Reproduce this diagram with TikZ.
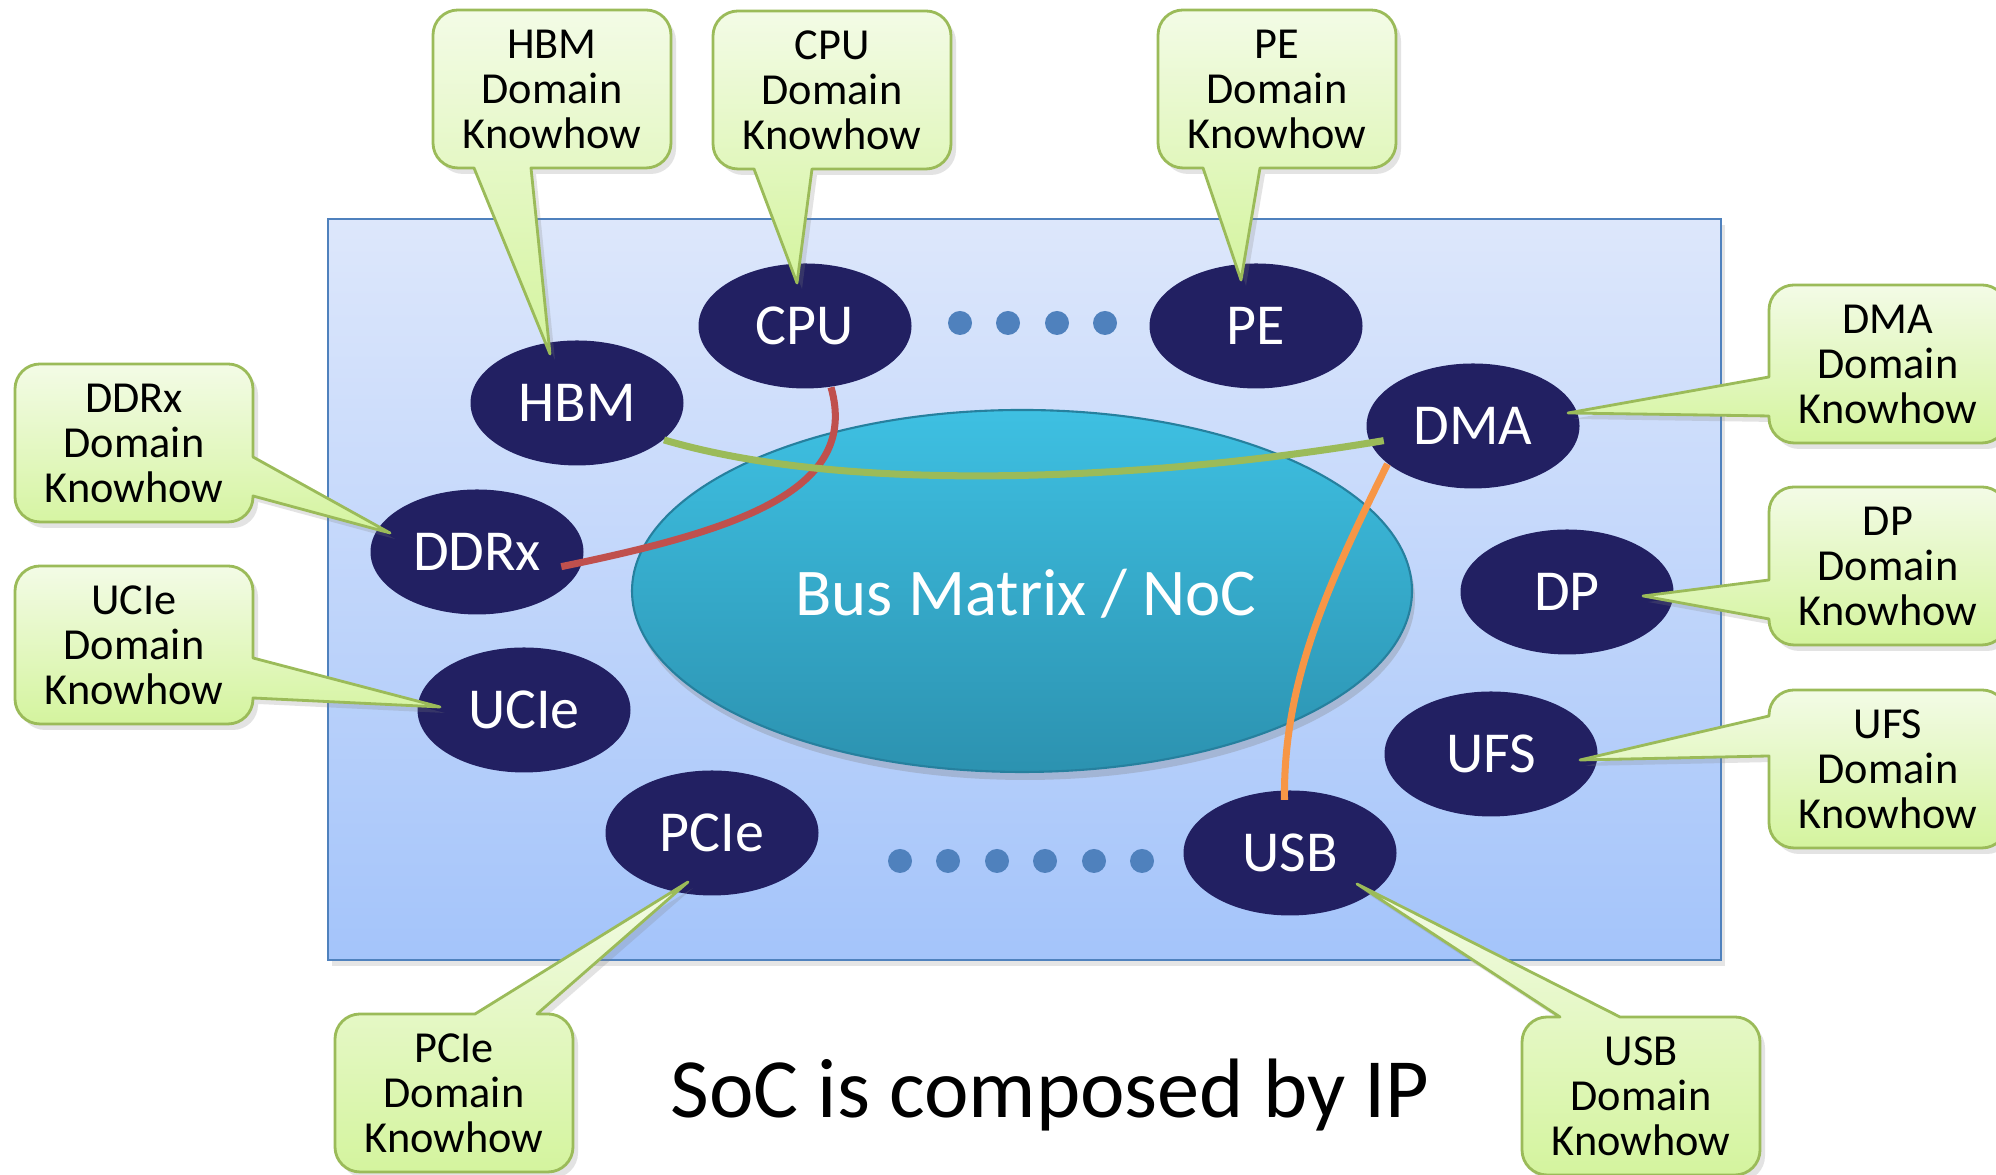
\documentclass[tikz,border=0pt]{standalone}
\usepackage{fontspec}
\setmainfont{Carlito}
\usetikzlibrary{shapes.geometric,shadows}
\definecolor{navyc}{RGB}{34,32,98}
\definecolor{cgtop}{RGB}{243,251,230}
\definecolor{cgbot}{RGB}{212,244,158}
\definecolor{cgline}{RGB}{155,187,89}
\definecolor{bgtop}{RGB}{221,231,251}
\definecolor{bgbot}{RGB}{164,196,250}
\definecolor{bgline}{RGB}{79,129,189}
\definecolor{bustop}{RGB}{62,192,226}
\definecolor{busbot}{RGB}{44,146,176}
\definecolor{busline}{RGB}{38,128,158}
\definecolor{dotc}{RGB}{79,129,189}
\definecolor{redc}{RGB}{192,80,77}
\definecolor{greenc}{RGB}{155,187,89}
\definecolor{orangec}{RGB}{247,150,70}
\tikzset{
  ipnode/.style={ellipse, fill=navyc, minimum width=21.3mm, minimum height=12.5mm, inner sep=0pt,
    text=white, font=\fontsize{16.5}{18}\selectfont},
  callshape/.style={top color=cgtop, bottom color=cgbot, draw=cgline, line width=0.8pt, line join=round,
    drop shadow={opacity=0.22, shadow xshift=0.5mm, shadow yshift=-0.6mm}},
  calltext/.style={align=center, inner sep=0pt, font=\fontsize{12.6}{12.8}\selectfont, text=black},
  dotmark/.style={circle, fill=dotc, minimum size=2.4mm, inner sep=0pt},
  wire/.style={line width=2pt},
}
% callout with pointer on bottom edge: name, cx, cy, b1x, b2x, tipx, tipy, text
\newcommand\calloutbottom[8]{%
  \draw[callshape] (#4,{#3-79}) -- ({#2-94},{#3-79}) arc[start angle=270,end angle=180,radius=25]
    -- ({#2-119},{#3+54}) arc[start angle=180,end angle=90,radius=25]
    -- ({#2+94},{#3+79}) arc[start angle=90,end angle=0,radius=25]
    -- ({#2+119},{#3-54}) arc[start angle=0,end angle=-90,radius=25]
    -- (#5,{#3-79}) -- (#6,#7) -- cycle;
  \node[calltext] (#1) at (#2,#3) {#8};}
% pointer on top edge
\newcommand\callouttop[8]{%
  \draw[callshape] (#4,{#3+79}) -- (#6,#7) -- (#5,{#3+79})
    -- ({#2+94},{#3+79}) arc[start angle=90,end angle=0,radius=25]
    -- ({#2+119},{#3-54}) arc[start angle=0,end angle=-90,radius=25]
    -- ({#2-94},{#3-79}) arc[start angle=270,end angle=180,radius=25]
    -- ({#2-119},{#3+54}) arc[start angle=180,end angle=90,radius=25]
    -- cycle;
  \node[calltext] (#1) at (#2,#3) {#8};}
% pointer on left edge: name, cx, cy, b1y(upper), b2y(lower), tipx, tipy, text
\newcommand\calloutleft[8]{%
  \draw[callshape] ({#2-119},#4) -- (#6,#7) -- ({#2-119},#5)
    -- ({#2-119},{#3-54}) arc[start angle=180,end angle=270,radius=25]
    -- ({#2+94},{#3-79}) arc[start angle=270,end angle=360,radius=25]
    -- ({#2+119},{#3+54}) arc[start angle=0,end angle=90,radius=25]
    -- ({#2-94},{#3+79}) arc[start angle=90,end angle=180,radius=25]
    -- cycle;
  \node[calltext] (#1) at (#2,#3) {#8};}
% pointer on right edge
\newcommand\calloutright[8]{%
  \draw[callshape] ({#2+119},#4) -- (#6,#7) -- ({#2+119},#5)
    -- ({#2+119},{#3-54}) arc[start angle=0,end angle=-90,radius=25]
    -- ({#2-94},{#3-79}) arc[start angle=270,end angle=180,radius=25]
    -- ({#2-119},{#3+54}) arc[start angle=180,end angle=90,radius=25]
    -- ({#2+94},{#3+79}) arc[start angle=90,end angle=0,radius=25]
    -- cycle;
  \node[calltext] (#1) at (#2,#3) {#8};}
\begin{document}
\begin{tikzpicture}[x=0.1mm, y=0.1mm]
\useasboundingbox (0,0) rectangle (1996,1175);
\fill[white] (0,0) rectangle (1996,1175);
% SoC background
\draw[top color=bgtop, bottom color=bgbot, draw=bgline, line width=0.6pt,
  drop shadow={opacity=0.2, shadow xshift=0.4mm, shadow yshift=-0.6mm}]
  (328,215) rectangle (1721,956);
% bus
\node[ellipse, minimum width=78mm, minimum height=36.2mm, inner sep=0pt,
  top color=bustop, bottom color=busbot, draw=busline, line width=0.6pt,
  drop shadow={opacity=0.3, shadow xshift=0.3mm, shadow yshift=-0.8mm}] (bus) at (1022,584) {};
\node[font=\fontsize{19}{22}\selectfont, text=white, anchor=base] (buslbl) at (1026,559) {Bus Matrix / NoC};
% IP nodes
\node[ipnode] (cpu) at (805,849) {CPU};
\node[ipnode] (pe) at (1256,849) {PE};
\node[ipnode] (hbm) at (577,772) {HBM};
\node[ipnode] (dma) at (1473,749) {DMA};
\node[ipnode] (ddrx) at (477,623) {DDRx};
\node[ipnode] (dp) at (1567,583) {DP};
\node[ipnode] (ucie) at (524,465) {UCIe};
\node[ipnode] (ufs) at (1491,421) {UFS};
\node[ipnode] (pcie) at (712,342) {PCIe};
\node[ipnode] (usb) at (1290,322) {USB};
% dots
\foreach \xx [count=\i] in {960,1008,1057,1105} \node[dotmark] (td\i) at (\xx,852) {};
\foreach \xx [count=\i] in {900,948,997,1045,1094,1142} \node[dotmark] (bd\i) at (\xx,314) {};
% connectors
\draw[wire, redc] (cpu.-67) .. controls (860,685) and (740,645) .. ([xshift=-2mm]ddrx.-8);
\draw[wire, greenc] (hbm.-23) .. controls (850,680) and (1150,695) .. ([xshift=1.5mm]dma.188);
\draw[wire, orangec] (dma.204) .. controls (1330,595) and (1283,495) .. ([yshift=-1mm]usb.95);
% callouts
\calloutbottom{hbmk}{552}{1086}{474}{531}{550}{821}{HBM\\Domain\\Knowhow}
\calloutbottom{cpuk}{832}{1085}{754}{812}{797}{892}{CPU\\Domain\\Knowhow}
\calloutbottom{pek}{1277}{1086}{1203}{1260}{1241}{895}{PE\\Domain\\Knowhow}
\calloutright{ddrxk}{134}{732}{718}{679}{390}{642}{DDRx\\Domain\\Knowhow}
\calloutright{uciek}{134}{530}{517}{477}{440}{468}{UCIe\\Domain\\Knowhow}
\calloutleft{dmak}{1888}{811}{798}{759}{1568}{762}{DMA\\Domain\\Knowhow}
\calloutleft{dpk}{1888}{609}{595}{556}{1643}{579}{DP\\Domain\\Knowhow}
\calloutleft{ufsk}{1888}{406}{459}{419}{1580}{415}{UFS\\Domain\\Knowhow}
\callouttop{pciek}{454}{82}{475}{537}{688}{293}{PCIe\\Domain\\Knowhow}
\callouttop{usbk}{1641}{79}{1560}{1620}{1357}{291}{USB\\Domain\\Knowhow}
% title
\node[font=\fontsize{24}{28}\selectfont, anchor=base] (title) at (1050,57) {SoC is composed by IP};
\end{tikzpicture}
\end{document}
